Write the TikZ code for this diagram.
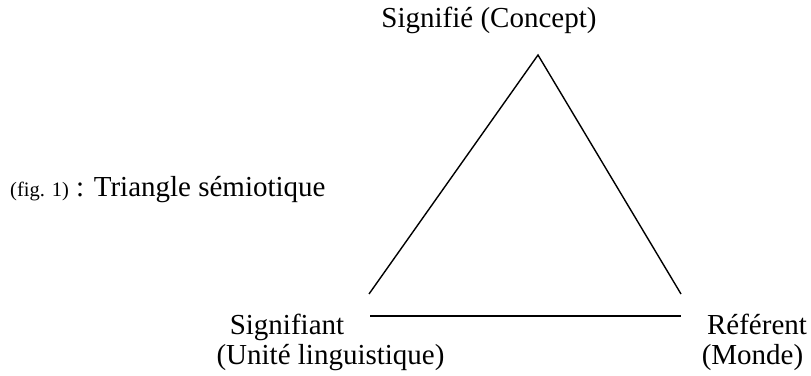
\documentclass[tikz,border=0pt]{standalone}
\usepackage{fontspec}
\setmainfont{Liberation Serif}
\begin{document}
\begin{tikzpicture}[x=1pt,y=1pt,
  lbl/.style={inner sep=0pt, font=\fontsize{29}{30}\selectfont},
  side/.style={line width=1.4pt},
  base/.style={line width=2pt}]
\useasboundingbox (0,0) rectangle (811,375);
% labels
\node[lbl, anchor=base] (top) at (489,347) {Signifié (Concept)};
\node[lbl, anchor=base west] (fig) at (10,178) {{\fontsize{20.5}{22}\selectfont(fig. 1)} : Triangle sémiotique};
\node[lbl, anchor=base] (sa1) at (287,41) {Signifiant};
\node[lbl, anchor=base] (sa2) at (330.5,11) {(Unité linguistique)};
\node[lbl, anchor=base] (re1) at (757,41) {Référent};
\node[lbl, anchor=base] (re2) at (752.5,11) {(Monde)};
% triangle
\coordinate (apex) at (538,320);
\coordinate (bl) at (369,81);
\coordinate (br) at (681,81);
\coordinate (hl) at (370,59);
\coordinate (hr) at (681,59);
\draw[side] (bl) -- (apex) -- (br);
\draw[base] (hl) -- (hr);
\end{tikzpicture}
\end{document}
